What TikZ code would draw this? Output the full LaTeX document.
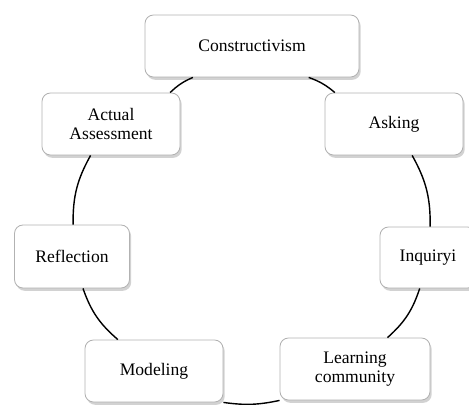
\documentclass[tikz,border=0pt]{standalone}
\usepackage{fontspec}
\setmainfont{Liberation Serif}
\usepackage{tikz}
\usetikzlibrary{shadows}

\begin{document}
\begin{tikzpicture}[
  x=0.025cm, y=-0.025cm,
  every node/.style={rectangle, rounded corners=6pt, draw=black!30, fill=white,
    line width=0.6pt, align=center, inner sep=0pt,
    font=\fontsize{12.5}{13}\selectfont,
    drop shadow={shadow xshift=1.2pt, shadow yshift=-2pt, fill=black!35, opacity=0.5}},
  link/.style={black, line width=1pt}
]
  \useasboundingbox (0,0) rectangle (469,405);

  \node[minimum width=214*0.025cm, minimum height=62*0.025cm] (con) at (252,46) {Constructivism};
  \node[minimum width=138*0.025cm, minimum height=62*0.025cm] (ask) at (394,124) {Asking};
  \node[minimum width=96*0.025cm,  minimum height=61*0.025cm] (inq) at (428,257.5) {Inquiryi};
  \node[minimum width=150*0.025cm, minimum height=62*0.025cm] (lrn) at (355,369) {Learning\\community};
  \node[minimum width=138*0.025cm, minimum height=62*0.025cm] (mod) at (154,371) {Modeling};
  \node[minimum width=115*0.025cm, minimum height=63*0.025cm] (ref) at (72,256.5) {Reflection};
  \node[minimum width=138*0.025cm, minimum height=62*0.025cm] (act) at (111,124) {Actual\\Assessment};

  \draw[link] (con.331) to[bend left=10] (ask.152);
  \draw[link] (ask.300) to[bend left=15] (inq.86);
  \draw[link] (inq.255) to[bend left=15] (lrn.44);
  \draw[link] (lrn.south west) to[bend left=10] (mod.south east);
  \draw[link] (mod.139) to[bend left=15] (ref.289);
  \draw[link] (ref.88) to[bend left=15] (act.237);
  \draw[link] (act.28) to[bend left=10] (con.208);
\end{tikzpicture}
\end{document}
